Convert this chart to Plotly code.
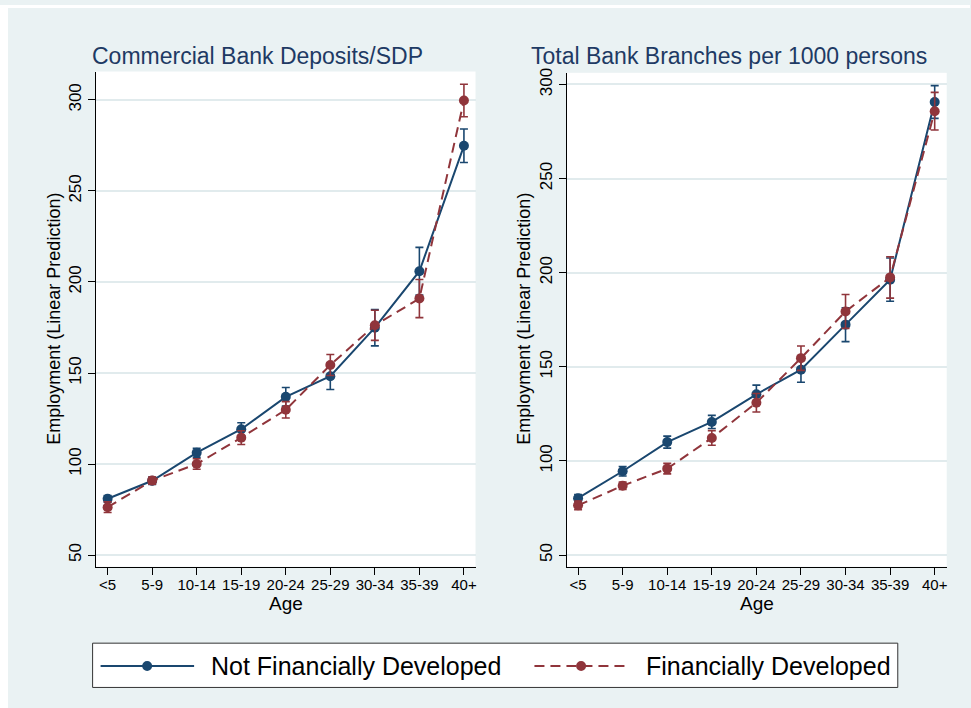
import plotly.graph_objects as go

W, H = 971, 708

# Age groups on the horizontal axis
ages = ["<5", "5-9", "10-14", "15-19", "20-24", "25-29", "30-34", "35-39", "40+"]

# Panel 1: Commercial Bank Deposits/SDP
dep_not_dev = [80.9, 90.8, 106.2, 119.1, 136.9, 148.2, 174.9, 205.9, 274.8]
dep_not_dev_ci = [1.8, 2.0, 2.5, 3.6, 5.1, 7.3, 10.0, 13.1, 9.2]
dep_dev = [76.3, 90.9, 100.0, 114.5, 129.8, 154.4, 176.2, 190.9, 299.7]
dep_dev_ci = [2.9, 2.0, 2.9, 3.8, 4.5, 5.8, 8.3, 10.5, 8.9]

# Panel 2: Total Bank Branches per 1000 persons
br_not_dev = [80.2, 94.5, 110.0, 120.7, 135.4, 148.5, 172.4, 196.3, 290.7]
br_not_dev_ci = [2.0, 2.5, 3.2, 3.5, 4.9, 6.7, 9.0, 11.5, 8.7]
br_dev = [76.4, 86.8, 95.9, 112.2, 130.9, 154.6, 179.4, 197.5, 285.8]
br_dev_ci = [2.3, 2.0, 2.8, 3.9, 4.9, 6.5, 9.0, 11.0, 10.0]

y_ticks = [50, 100, 150, 200, 250, 300]

panel_titles = ["Commercial Bank Deposits/SDP", "Total Bank Branches per 1000 persons"]
series_names = ["Not Financially Developed", "Financially Developed"]

NAVY = "#1A476F"
MAROON = "#90353B"
BG = "#EAF2F3"
GRID = "#E1EBED"
TITLE_C = "#1E3A64"
FONT = "Liberation Sans, Arial, sans-serif"
DASH = "10px,6px"


def px(x):
    return x / W


def py(y):
    return 1 - y / H


xi = list(range(len(ages)))

fig = go.Figure()

panels = [
    (dep_not_dev, dep_not_dev_ci, dep_dev, dep_dev_ci, "x", "y"),
    (br_not_dev, br_not_dev_ci, br_dev, br_dev_ci, "x2", "y2"),
]
for nd, nd_ci, d, d_ci, xa, ya in panels:
    fig.add_trace(go.Scatter(
        x=xi, y=nd, xaxis=xa, yaxis=ya, mode="lines+markers",
        name=series_names[0], showlegend=False,
        line=dict(color=NAVY, width=2),
        marker=dict(color=NAVY, size=10),
        error_y=dict(type="data", array=nd_ci, color=NAVY, thickness=1.6, width=4),
    ))
    fig.add_trace(go.Scatter(
        x=xi, y=d, xaxis=xa, yaxis=ya, mode="lines+markers",
        name=series_names[1], showlegend=False,
        line=dict(color=MAROON, width=2, dash=DASH),
        marker=dict(color=MAROON, size=10),
        error_y=dict(type="data", array=d_ci, color=MAROON, thickness=1.6, width=4),
    ))

xaxis_common = dict(
    tickmode="array", tickvals=xi, ticktext=ages,
    showline=True, linecolor="black", linewidth=1,
    ticks="outside", ticklen=7, tickcolor="black", tickwidth=1,
    showgrid=False, zeroline=False, ticklabelstandoff=-3,
    tickfont=dict(family=FONT, size=15, color="black"),
)
yaxis_common = dict(
    tickmode="array", tickvals=y_ticks,
    showline=True, linecolor="black", linewidth=1,
    ticks="outside", ticklen=7, tickcolor="black", tickwidth=1,
    showgrid=True, gridcolor=GRID, gridwidth=1.5, zeroline=False,
    tickangle=-90,
    tickfont=dict(family=FONT, size=17, color="black"),
)

fig.update_layout(
    width=W, height=H,
    margin=dict(l=0, r=0, t=0, b=0),
    paper_bgcolor=BG, plot_bgcolor="white",
    showlegend=False,
    xaxis=dict(xaxis_common, domain=[px(95.7), px(476)], range=[-0.27, 8.26], anchor="y"),
    yaxis=dict(yaxis_common, domain=[py(565.7), py(67)], range=[43.6, 315.6], anchor="x"),
    xaxis2=dict(xaxis_common, domain=[px(567.3), px(947.7)], range=[-0.255, 8.27], anchor="y2"),
    yaxis2=dict(yaxis_common, domain=[py(565.7), py(68.3)], range=[43.8, 306.2], anchor="x2"),
)

ann = []
# Panel titles
for cx, t in zip([257.5, 730], panel_titles):
    ann.append(dict(x=px(cx), y=py(51), xref="paper", yref="paper", text=t,
                    showarrow=False, xanchor="center", yanchor="middle",
                    font=dict(family=FONT, size=23, color=TITLE_C)))
# Axis titles
for cx in [54, 524.5]:
    ann.append(dict(x=px(cx), y=py(316), xref="paper", yref="paper",
                    text="Employment (Linear Prediction)", textangle=-90,
                    showarrow=False, xanchor="center", yanchor="middle",
                    font=dict(family=FONT, size=18, color="black")))
for cx in [286, 757.5]:
    ann.append(dict(x=px(cx), y=py(603), xref="paper", yref="paper", text="Age",
                    showarrow=False, xanchor="center", yanchor="middle",
                    font=dict(family=FONT, size=19, color="black")))

shapes = []
# thin white strips at the outer edges
shapes.append(dict(type="rect", xref="paper", yref="paper", x0=0, x1=px(8), y0=0, y1=1,
                   fillcolor="white", line=dict(width=0), layer="below"))
shapes.append(dict(type="rect", xref="paper", yref="paper", x0=0, x1=1, y0=py(3), y1=1,
                   fillcolor="white", line=dict(width=0), layer="below"))

# Legend box
shapes.append(dict(type="rect", xref="paper", yref="paper",
                   x0=px(92.7), x1=px(898.7), y0=py(687.3), y1=py(642.7),
                   fillcolor="white", line=dict(color="#333333", width=1), layer="above"))
leg_y = 665.7
legend_items = [
    (100.7, 194.3, 147.3, NAVY, "solid", 209.3, series_names[0]),
    (535.0, 629.0, 581.7, MAROON, DASH, 645.0, series_names[1]),
]
for x0, x1, mx, col, dash, tx, label in legend_items:
    shapes.append(dict(type="line", xref="paper", yref="paper",
                       x0=px(x0), x1=px(x1), y0=py(leg_y), y1=py(leg_y),
                       line=dict(color=col, width=2, dash=dash), layer="above"))
    shapes.append(dict(type="circle", xref="paper", yref="paper",
                       x0=px(mx - 5), x1=px(mx + 5), y0=py(leg_y + 5), y1=py(leg_y - 5),
                       fillcolor=col, line=dict(width=0), layer="above"))
    ann.append(dict(x=px(tx), y=py(leg_y), xref="paper", yref="paper", text=label,
                    showarrow=False, xanchor="left", yanchor="middle",
                    font=dict(family=FONT, size=25, color="black")))

fig.update_layout(annotations=ann, shapes=shapes)

fig.write_html("out.html")
